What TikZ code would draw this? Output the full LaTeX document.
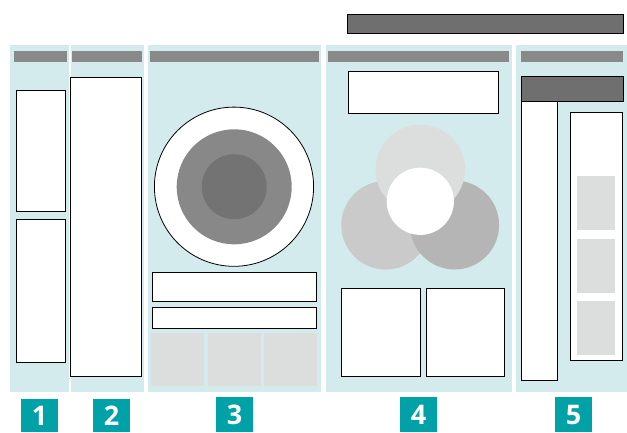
\documentclass[tikz,border=0pt]{standalone}
\usepackage{fontspec}
\setmainfont{Open Sans}
\definecolor{panelbg}{HTML}{D3EBED}
\definecolor{headgray}{HTML}{898989}
\definecolor{darkgray}{HTML}{6F6F6F}
\definecolor{lightgray}{HTML}{DCDDDD}
\definecolor{midgray}{HTML}{CACACA}
\definecolor{dimgray}{HTML}{B5B5B5}
\definecolor{ringgray}{HTML}{888888}
\definecolor{coregray}{HTML}{737373}
\definecolor{badge}{HTML}{00A1A7}
\tikzset{
  panel/.style={fill=panelbg, draw=none},
  header/.style={fill=headgray, draw=none},
  wbox/.style={fill=white, draw=black, line width=0.8pt},
  dbox/.style={fill=darkgray, draw=black, line width=0.8pt},
  gsq/.style={fill=lightgray, draw=none},
  badgebox/.style={fill=badge, draw=none},
  badgetext/.style={text=white, font=\bfseries\fontsize{27}{27}\selectfont, inner sep=0pt}
}
\begin{document}
\begin{tikzpicture}[x=1pt,y=-1pt]
\useasboundingbox (0,0) rectangle (627,432);
% top dark bar
\draw[dbox] (347,14) rectangle (623,33);
% panels
\fill[panel] (10,45) rectangle (68.5,391.7);
\fill[panel] (71,45) rectangle (144,391.7);
\fill[panel] (148,45) rectangle (321,391.7);
\fill[panel] (326,45) rectangle (512,391.7);
\fill[panel] (516,45) rectangle (627,391.7);
% headers
\fill[header] (14,51) rectangle (67,62);
\fill[header] (72,51) rectangle (142,62);
\fill[header] (150,51) rectangle (319,62);
\fill[header] (328,51) rectangle (509,62);
\fill[header] (521,51) rectangle (623,62);
% panel 1
\draw[wbox] (16,90) rectangle (65.7,211);
\draw[wbox] (16,219) rectangle (65.7,362);
% panel 2
\draw[wbox] (70.7,77) rectangle (141.3,376);
% panel 3
\draw[fill=white, draw=black, line width=0.8pt] (234,186.7) circle (79.6);
\fill[ringgray] (234.2,186.8) circle (57.5);
\fill[coregray] (234.2,186.7) circle (32.5);
\draw[wbox] (152,272.7) rectangle (316.3,301.7);
\draw[wbox] (152,307.3) rectangle (316.3,328.3);
\fill[gsq] (151,333) rectangle (204,385.7);
\fill[gsq] (208,333) rectangle (261,385.7);
\fill[gsq] (264,333) rectangle (317,385.7);
% panel 4
\draw[wbox] (348.3,71) rectangle (498.7,113.3);
\fill[midgray] (385.6,225.2) circle (44.3);
\fill[dimgray] (454.6,225) circle (44.5);
\fill[lightgray] (420.3,169.4) circle (44.7);
\fill[white] (420.3,201.3) circle (33.6);
\draw[wbox] (341.7,288) rectangle (420.7,376);
\draw[wbox] (426.3,288) rectangle (504.7,376);
% panel 5
\draw[wbox] (521,101.7) rectangle (557.7,380);
\draw[dbox] (521,76) rectangle (623,101.7);
\draw[wbox] (570.3,112.3) rectangle (622.7,360);
\fill[gsq] (577,176) rectangle (615,230);
\fill[gsq] (577,239) rectangle (615,292.7);
\fill[gsq] (577,300.7) rectangle (615,355);
% badges
\fill[badgebox] (21,399) rectangle (58,432);
\node[badgetext] (b1) at (39.5,415.5) {1};
\fill[badgebox] (93,399) rectangle (130,432);
\node[badgetext] (b2) at (111.5,415.5) {2};
\fill[badgebox] (216,397) rectangle (253,432);
\node[badgetext] (b3) at (234.5,414.5) {3};
\fill[badgebox] (400,397) rectangle (437,432);
\node[badgetext] (b4) at (418.5,414.5) {4};
\fill[badgebox] (555,397) rectangle (592,432);
\node[badgetext] (b5) at (573.5,414.5) {5};
\end{tikzpicture}
\end{document}
